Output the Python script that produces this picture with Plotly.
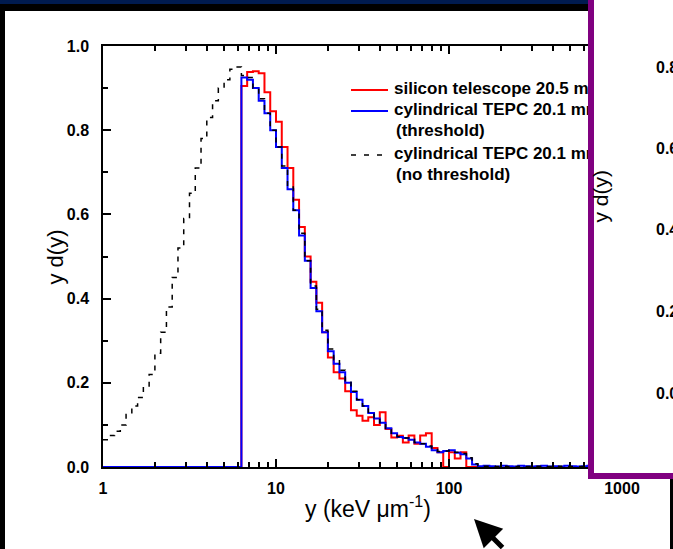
import plotly.graph_objects as go

# ---------------- data ----------------
BINS_PER_DECADE = 30  # log-spaced histogram bins, edges at 10**(k/30)

# cylindrical TEPC 20.1 mm, no threshold (bins k = 0 ..)
tepc_nothr = [0.065, 0.075, 0.085, 0.10, 0.125, 0.145, 0.165, 0.19, 0.22, 0.27,
              0.32, 0.38, 0.45, 0.52, 0.59, 0.65, 0.71, 0.78, 0.83, 0.87,
              0.90, 0.92, 0.945, 0.95,
              0.93, 0.925, 0.90, 0.875, 0.84, 0.80, 0.76, 0.715, 0.665, 0.61,
              0.555, 0.49, 0.43, 0.375, 0.325, 0.28, 0.255, 0.23, 0.205, 0.18,
              0.16, 0.145, 0.13, 0.115, 0.105, 0.09, 0.08, 0.072, 0.069, 0.066,
              0.058, 0.055, 0.05, 0.042, 0.037, 0.038, 0.04, 0.035, 0.032, 0.022,
              0.008, 0.003, 0.002, 0.002, 0.001, 0.002, 0.001, 0.001, 0.002, 0.001,
              0.001, 0.002, 0.001, 0.001, 0.001, 0.002, 0.001, 0.001, 0.001, 0.001,
              0.001, 0.001, 0.001, 0.001, 0.001, 0.001]

# cylindrical TEPC 20.1 mm, threshold (bins k = 0 ..)
tepc_thr = [0.0, 0.0, 0.0, 0.0, 0.0, 0.0, 0.0, 0.0, 0.0, 0.0,
            0.0, 0.0, 0.0, 0.0, 0.0, 0.0, 0.0, 0.0, 0.0, 0.0,
            0.0, 0.0, 0.0, 0.0,
            0.925, 0.92, 0.90, 0.87, 0.84, 0.80, 0.76, 0.71, 0.66, 0.61,
            0.55, 0.49, 0.425, 0.37, 0.32, 0.275, 0.245, 0.225, 0.20, 0.178,
            0.16, 0.145, 0.128, 0.115, 0.105, 0.092, 0.08, 0.071, 0.069, 0.065,
            0.058, 0.055, 0.048, 0.04, 0.035, 0.038, 0.04, 0.034, 0.03, 0.02,
            0.006, 0.002, 0.003, 0.002, 0.001, 0.003, 0.002, 0.001, 0.003, 0.002,
            0.001, 0.002, 0.003, 0.001, 0.002, 0.001, 0.003, 0.002, 0.001, 0.002,
            0.003, 0.002, 0.001, 0.002, 0.001, 0.001]

# silicon telescope 20.5 mm (bins k = 23 ..)
SILICON_START_BIN = 23
silicon = [0.0,
           0.905, 0.938, 0.94, 0.935, 0.89, 0.845, 0.82, 0.76, 0.71, 0.635,
           0.57, 0.50, 0.44, 0.39, 0.32, 0.26, 0.225, 0.21, 0.18, 0.135,
           0.122, 0.11, 0.118, 0.10, 0.13, 0.09, 0.07, 0.074, 0.058, 0.075,
           0.055, 0.075, 0.08, 0.045, 0.035, 0.0, 0.035, 0.02, 0.035, 0.0,
           0.0, 0.0]

x_ticks = [1, 10, 100, 1000]
x_tick_text = ["1", "10", "100", "1000"]
y_ticks = [0.0, 0.2, 0.4, 0.6, 0.8, 1.0]

legend_labels = ["silicon telescope 20.5 mm", "cylindrical TEPC 20.1 mm",
                 "(threshold)", "cylindrical TEPC 20.1 mm", "(no threshold)"]
inset_ticks = ["0.8", "0.6", "0.4", "0.2", "0.0"]


def step_xy(values, start_bin):
    xs = [10 ** ((start_bin + i) / BINS_PER_DECADE) for i in range(len(values) + 1)]
    ys = list(values) + [values[-1]]
    return xs, ys


# ---------------- layout helpers (pixel -> paper/data) ----------------
W, H = 673, 549
L, R, T, B = 103, 622, 46, 467


def px(x):
    return (x - L) / (R - L)


def py(y):
    return (B - y) / (B - T)


def data_x(x):
    return 10 ** (3 * (x - L) / (R - L))


def data_y(y):
    return (B - y) / (B - T)


FONT = "Liberation Sans, Arial, sans-serif"

fig = go.Figure()

for vals, start, color, dash, width in [
    (silicon, SILICON_START_BIN, "#ff0000", "solid", 2),
    (tepc_thr, 0, "#0000ff", "solid", 2),
    (tepc_nothr, 0, "#000000", "5px,6px", 1.5),
]:
    xs, ys = step_xy(vals, start)
    fig.add_trace(go.Scatter(x=xs, y=ys, mode="lines", line_shape="hv",
                             line=dict(color=color, width=width, dash=dash),
                             showlegend=False, hoverinfo="skip", cliponaxis=True))

# legend text as trace text (so the inset panel covers it)
leg_rows = [(394, 90), (394, 111), (396, 132), (394, 155), (396, 176)]
fig.add_trace(go.Scatter(
    x=[data_x(a) for a, b in leg_rows], y=[data_y(b) for a, b in leg_rows],
    mode="text", text=[f"<b>{t}</b>" for t in legend_labels],
    textposition="middle right", textfont=dict(family=FONT, size=17, color="black"),
    showlegend=False, hoverinfo="skip", cliponaxis=False))

shapes = []
# legend sample lines
for yy, col, dash in [(90, "#ff0000", "solid"), (111, "#0000ff", "solid"), (155, "#000000", "5px,8px")]:
    shapes.append(dict(type="line", xref="paper", yref="paper", x0=px(351), x1=px(388),
                       y0=py(yy), y1=py(yy), line=dict(color=col, width=2 if dash == "solid" else 1.5, dash=dash),
                       layer="below"))
# slide frame
shapes += [
    dict(type="rect", xref="paper", yref="paper", x0=px(-5), x1=px(600), y0=py(4), y1=py(-5),
         fillcolor="#001b50", line=dict(width=0), layer="above"),
    dict(type="rect", xref="paper", yref="paper", x0=px(-5), x1=px(600), y0=py(11), y1=py(4),
         fillcolor="black", line=dict(width=0), layer="above"),
    dict(type="rect", xref="paper", yref="paper", x0=px(-5), x1=px(5), y0=py(560), y1=py(4),
         fillcolor="black", line=dict(width=0), layer="above"),
    dict(type="rect", xref="paper", yref="paper", x0=px(670), x1=px(680), y0=py(560), y1=py(478),
         fillcolor="black", line=dict(width=0), layer="above"),
    # inset panel with purple border
    dict(type="rect", xref="paper", yref="paper", x0=px(591), x1=px(700), y0=py(476), y1=py(-20),
         fillcolor="white", line=dict(color="#800080", width=6), layer="above"),
]

annotations = [
    dict(text="y d(y)", xref="paper", yref="paper", x=px(40), y=py(257), showarrow=False,
         textangle=-90, font=dict(family=FONT, size=22, color="black")),
    dict(text="y (keV \u03bcm<sup>-1</sup>)", xref="paper", yref="paper", x=px(368), y=py(524),
         showarrow=False, font=dict(family=FONT, size=23, color="black")),
    dict(text="y d(y)", xref="paper", yref="paper", x=px(614), y=py(196), showarrow=False,
         textangle=-90, font=dict(family=FONT, size=21, color="black")),
    dict(text="", xref="paper", yref="paper", x=px(474), y=py(519), ax=30, ay=40,
         showarrow=True, arrowhead=2, arrowsize=1.1, arrowwidth=5, arrowcolor="black"),
]
for t, yy in zip(inset_ticks, [68, 148, 229, 311, 393]):
    annotations.append(dict(text=f"<b>{t}</b>", xref="paper", yref="paper", x=px(654), y=py(yy),
                            xanchor="left", yanchor="middle", showarrow=False,
                            font=dict(family=FONT, size=16, color="black")))

fig.update_layout(
    width=W, height=H, margin=dict(l=L, r=W - R, t=T, b=H - B, pad=0),
    paper_bgcolor="white", plot_bgcolor="white",
    shapes=shapes, annotations=annotations, showlegend=False,
    xaxis=dict(type="log", range=[0, 3], tickvals=x_ticks, ticktext=x_tick_text,
               ticks="inside", ticklen=8, tickwidth=1.5, tickcolor="black",
               showline=True, linecolor="black", linewidth=1.5, mirror="ticks",
               showgrid=False, zeroline=False, ticklabelstandoff=6,
               tickfont=dict(family=FONT, size=16, color="black", weight="bold"),
               minor=dict(ticks="inside", ticklen=5, tickwidth=1.5, tickcolor="black",
                          dtick="D1", showgrid=False)),
    yaxis=dict(range=[0, 1], tickvals=y_ticks, tickformat=".1f",
               ticks="inside", ticklen=8, tickwidth=1.5, tickcolor="black",
               showline=True, linecolor="black", linewidth=1.5, mirror="ticks",
               showgrid=False, zeroline=False, ticklabelstandoff=9,
               tickfont=dict(family=FONT, size=16, color="black", weight="bold"),
               minor=dict(ticks="inside", ticklen=5, tickwidth=1.5, tickcolor="black",
                          dtick=0.1, showgrid=False)),
)

fig.write_html("out.html")
